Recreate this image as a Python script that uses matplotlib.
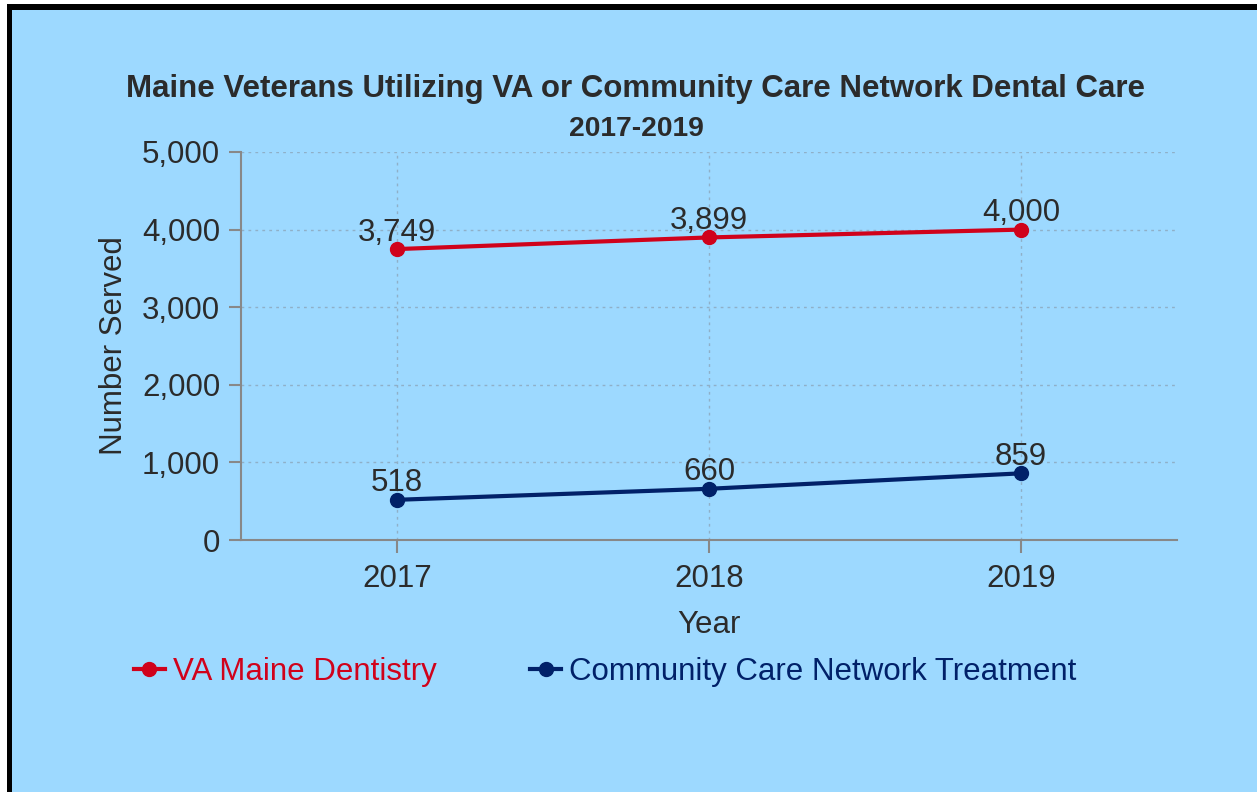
import matplotlib
matplotlib.use("Agg")
import matplotlib.pyplot as plt
from matplotlib.patches import Rectangle

plt.rcParams['font.family'] = ['Liberation Sans', 'DejaVu Sans']

years = [2017, 2018, 2019]
va_dentistry = [3749, 3899, 4000]
community_care = [518, 660, 859]
series_names = ["VA Maine Dentistry", "Community Care Network Treatment"]
yticks = [0, 1000, 2000, 3000, 4000, 5000]

BG = "#9dd9ff"
RED = "#d0021b"
NAVY = "#012169"
TXT = "#2b2b2b"
AX = "#888888"
FS = 22.5

W, H = 1257, 792
fig = plt.figure(figsize=(W / 100, H / 100), dpi=100)
fig.patch.set_facecolor("white")
# background panel and border
bg = fig.add_axes([0, 0, 1, 1], zorder=-10)
bg.set_xlim(0, W)
bg.set_ylim(0, H)
bg.axis("off")
bg.add_patch(Rectangle((7, 0), W - 7, H - 4, facecolor="black", edgecolor="none"))
bg.add_patch(Rectangle((12, 0), W - 12, H - 10, facecolor=BG, edgecolor="none"))

ax = fig.add_axes([241 / W, 1 - 540 / H, (1177 - 241) / W, (540 - 152) / H])
ax.set_facecolor("none")
ax.set_xlim(2016.5, 2019.5)
ax.set_ylim(0, 5000)

ax.plot(years, va_dentistry, color=RED, lw=3, marker="o", ms=10, label=series_names[0], zorder=3)
ax.plot(years, community_care, color=NAVY, lw=3, marker="o", ms=10, label=series_names[1], zorder=3)

for series in (va_dentistry, community_care):
    for x, y in zip(years, series):
        ax.annotate(f"{y:,}", (x, y), xytext=(0, 6), textcoords="offset points",
                    ha="center", va="baseline", fontsize=FS, color=TXT)

ax.set_xticks(years)
ax.set_xticklabels([str(y) for y in years])
ax.set_yticks(yticks)
ax.set_yticklabels([f"{v:,}" for v in yticks])
ax.tick_params(axis="both", labelsize=FS, colors=AX, labelcolor=TXT, length=9, width=1.5)
ax.tick_params(axis="x", pad=8)
ax.tick_params(axis="y", pad=6)

ax.grid(True, color="#8fb0c8", linestyle=(0, (2, 3)), lw=1)
for s in ["top", "right"]:
    ax.spines[s].set_visible(False)
for s in ["left", "bottom"]:
    ax.spines[s].set_color(AX)
    ax.spines[s].set_linewidth(1.5)

ax.set_xlabel("Year", fontsize=FS, color=TXT, labelpad=12)
ax.set_ylabel("Number Served", fontsize=FS, color=TXT, labelpad=9)

fig.text(636 / W, 1 - 89 / H, "Maine Veterans Utilizing VA or Community Care Network Dental Care",
         ha="center", va="center", fontsize=22.5, fontweight="bold", color=TXT)
fig.text(636 / W, 1 - 129 / H, "2017-2019", ha="center", va="center",
         fontsize=20.3, fontweight="bold", color=TXT)

leg = fig.legend(loc="center", bbox_to_anchor=(605 / W, 1 - 672 / H), ncol=2, frameon=False,
                 fontsize=FS, handlelength=1.0, columnspacing=3.0, handletextpad=0.25,
                 borderpad=0, borderaxespad=0)
for text, c in zip(leg.get_texts(), [RED, NAVY]):
    text.set_color(c)

fig.savefig("out.png", dpi=100, facecolor=fig.get_facecolor())
